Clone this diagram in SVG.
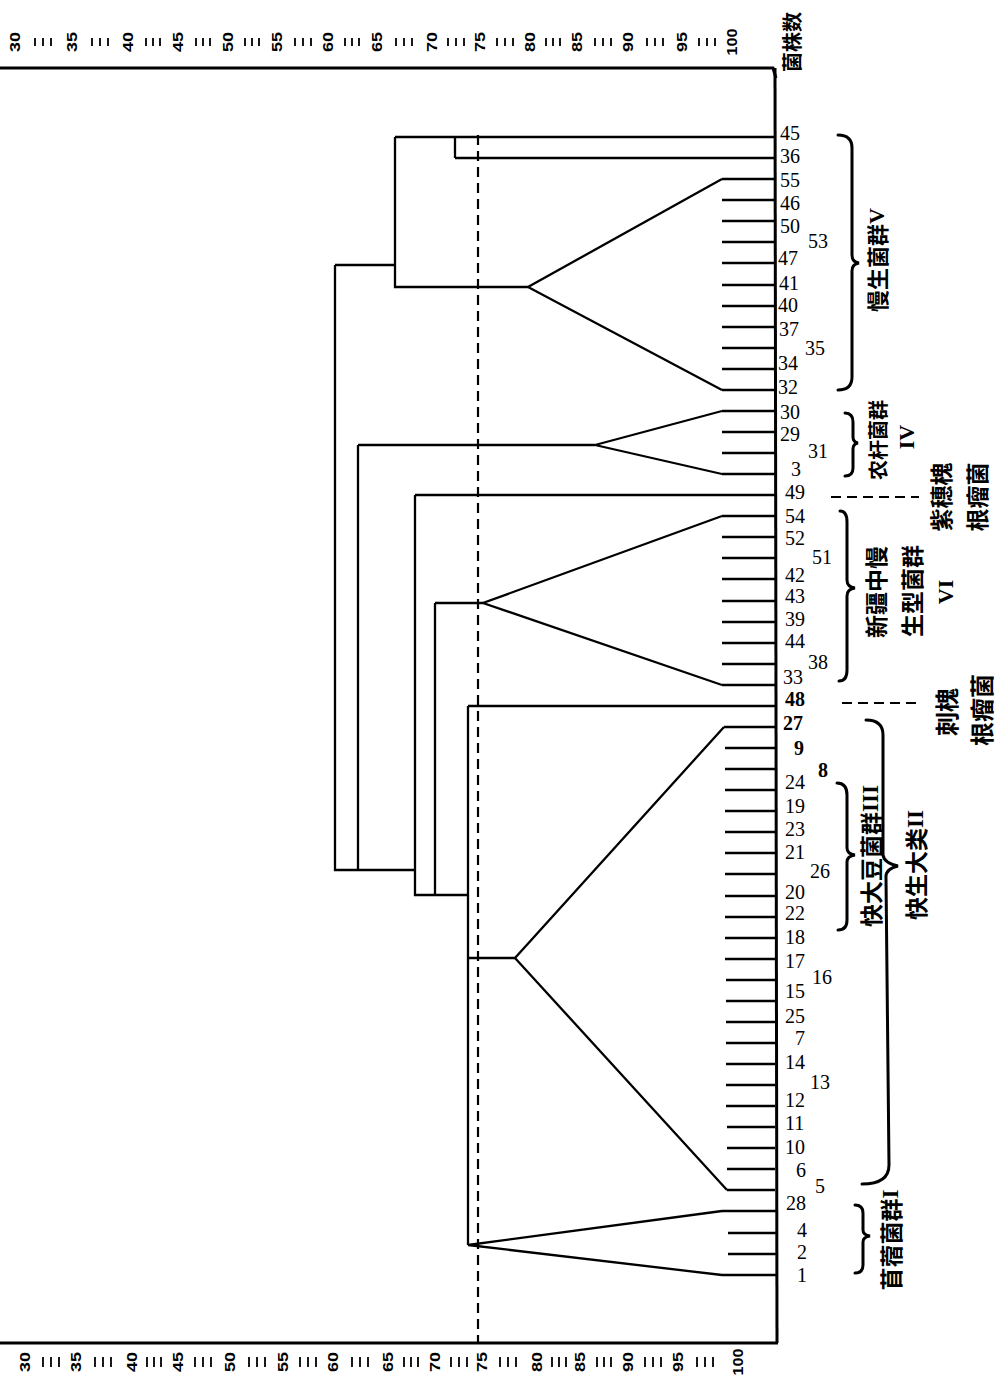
<svg xmlns="http://www.w3.org/2000/svg" width="1000" height="1380" viewBox="0 0 1000 1380">
<style>
.ln{stroke:#000;stroke-width:2.3;fill:none}
.fr{stroke:#000;stroke-width:3;fill:none}
.dash{stroke:#000;stroke-width:2.2;fill:none;stroke-dasharray:10 6}
.br{stroke:#000;stroke-width:3;fill:none;stroke-linecap:round}
.tk{stroke:#000;stroke-width:1.8}
.leaf{font-family:"Liberation Serif",serif;font-size:20px;fill:#000}
.ax{font-family:"Liberation Sans",sans-serif;font-weight:bold;font-size:14px;fill:#000}
.cjk{font-family:"Noto Sans CJK SC",sans-serif;font-weight:bold;fill:#000}
.rn{font-family:"Liberation Serif",serif;font-weight:bold}
</style>
<rect width="1000" height="1380" fill="#fff"/>

<g id="axis-top">
<g class="ax" text-anchor="middle" dominant-baseline="central">
<text transform="translate(15,42) rotate(-90)" textLength="20" lengthAdjust="spacingAndGlyphs">30</text>
<text transform="translate(72,42) rotate(-90)" textLength="20" lengthAdjust="spacingAndGlyphs">35</text>
<text transform="translate(128,42) rotate(-90)" textLength="20" lengthAdjust="spacingAndGlyphs">40</text>
<text transform="translate(178,42) rotate(-90)" textLength="20" lengthAdjust="spacingAndGlyphs">45</text>
<text transform="translate(228,42) rotate(-90)" textLength="20" lengthAdjust="spacingAndGlyphs">50</text>
<text transform="translate(277,42) rotate(-90)" textLength="20" lengthAdjust="spacingAndGlyphs">55</text>
<text transform="translate(328,42) rotate(-90)" textLength="20" lengthAdjust="spacingAndGlyphs">60</text>
<text transform="translate(377,42) rotate(-90)" textLength="20" lengthAdjust="spacingAndGlyphs">65</text>
<text transform="translate(432,42) rotate(-90)" textLength="20" lengthAdjust="spacingAndGlyphs">70</text>
<text transform="translate(480,42) rotate(-90)" textLength="20" lengthAdjust="spacingAndGlyphs">75</text>
<text transform="translate(530,42) rotate(-90)" textLength="20" lengthAdjust="spacingAndGlyphs">80</text>
<text transform="translate(577,42) rotate(-90)" textLength="20" lengthAdjust="spacingAndGlyphs">85</text>
<text transform="translate(628,42) rotate(-90)" textLength="20" lengthAdjust="spacingAndGlyphs">90</text>
<text transform="translate(682,42) rotate(-90)" textLength="20" lengthAdjust="spacingAndGlyphs">95</text>
<text transform="translate(732,42) rotate(-90)" textLength="27" lengthAdjust="spacingAndGlyphs">100</text>
</g>
<path class="tk" d="M35,38v8M43,38v8M51,38v8 M92,38v8M100,38v8M108,38v8 M146,38v8M153,38v8M160,38v8 M196,38v8M203,38v8M210,38v8 M245,38v8M252,38v8M259,38v8 M295,38v8M303,38v8M311,38v8 M345,38v8M352,38v8M359,38v8 M396,38v8M404,38v8M412,38v8 M448,38v8M456,38v8M464,38v8 M497,38v8M505,38v8M513,38v8 M546,38v8M553,38v8M560,38v8 M595,38v8M603,38v8M611,38v8 M647,38v8M655,38v8M663,38v8 M699,38v8M707,38v8M715,38v8"/>
</g>

<g id="axis-bottom">
<g class="ax" text-anchor="middle" dominant-baseline="central">
<text transform="translate(25,1362) rotate(-90)" textLength="20" lengthAdjust="spacingAndGlyphs">30</text>
<text transform="translate(76,1362) rotate(-90)" textLength="20" lengthAdjust="spacingAndGlyphs">35</text>
<text transform="translate(132,1362) rotate(-90)" textLength="20" lengthAdjust="spacingAndGlyphs">40</text>
<text transform="translate(178,1362) rotate(-90)" textLength="20" lengthAdjust="spacingAndGlyphs">45</text>
<text transform="translate(230,1362) rotate(-90)" textLength="20" lengthAdjust="spacingAndGlyphs">50</text>
<text transform="translate(283,1362) rotate(-90)" textLength="20" lengthAdjust="spacingAndGlyphs">55</text>
<text transform="translate(333,1362) rotate(-90)" textLength="20" lengthAdjust="spacingAndGlyphs">60</text>
<text transform="translate(388,1362) rotate(-90)" textLength="20" lengthAdjust="spacingAndGlyphs">65</text>
<text transform="translate(435,1362) rotate(-90)" textLength="20" lengthAdjust="spacingAndGlyphs">70</text>
<text transform="translate(482,1362) rotate(-90)" textLength="20" lengthAdjust="spacingAndGlyphs">75</text>
<text transform="translate(537,1362) rotate(-90)" textLength="20" lengthAdjust="spacingAndGlyphs">80</text>
<text transform="translate(580,1362) rotate(-90)" textLength="20" lengthAdjust="spacingAndGlyphs">85</text>
<text transform="translate(628,1362) rotate(-90)" textLength="20" lengthAdjust="spacingAndGlyphs">90</text>
<text transform="translate(678,1362) rotate(-90)" textLength="20" lengthAdjust="spacingAndGlyphs">95</text>
<text transform="translate(738,1362) rotate(-90)" textLength="27" lengthAdjust="spacingAndGlyphs">100</text>
</g>
<path class="tk" d="M43,1357v10M51,1357v10M59,1357v10 M95,1357v10M103,1357v10M111,1357v10 M147,1357v10M154,1357v10M161,1357v10 M195,1357v10M203,1357v10M211,1357v10 M249,1357v10M257,1357v10M265,1357v10 M300,1357v10M308,1357v10M316,1357v10 M352,1357v10M360,1357v10M368,1357v10 M404,1357v10M411,1357v10M418,1357v10 M451,1357v10M459,1357v10M467,1357v10 M500,1357v10M508,1357v10M516,1357v10 M552,1357v10M559,1357v10M566,1357v10 M597,1357v10M604,1357v10M611,1357v10 M645,1357v10M653,1357v10M661,1357v10 M697,1357v10M705,1357v10M713,1357v10"/>
</g>

<g id="axis-title">
<text class="cjk" font-size="20" text-anchor="middle" dominant-baseline="central" transform="translate(791,42) rotate(-90)">菌株数</text>
</g>

<g id="connectors">
<path class="fr" d="M0,68 L773,68 L776,78"/>
<path class="fr" d="M775,68 L777,1343"/>
<path class="fr" d="M0,1343 L778,1343"/>
<path class="dash" d="M478,135 V1343"/>
<path class="ln" d="M395,137 H775 M455,158 H775 M455,137 V158 M395,137 V287 H528 M335,265 H395"/>
<path class="ln" d="M722,179 L528,287 L722,390"/>
<path class="ln" d="M722,179H775M722,200H775M722,221H775M722,242H775M722,263H775M722,285H775M722,306H775M722,327H775M722,348H775M722,369H775M722,390H775"/>
<path class="ln" d="M335,265 V870 H415 M358,445 V870 M358,445 H595"/>
<path class="ln" d="M722,411 L595,445 L722,474"/>
<path class="ln" d="M722,411H775M722,432H775M722,453H775M722,474H775"/>
<path class="ln" d="M415,495 V895 H468 M415,495 H775 M435,603 V895 M435,603 H483"/>
<path class="ln" d="M722,516 L483,603 L722,685"/>
<path class="ln" d="M722,516H775M722,537H775M722,558H775M722,579H775M722,601H775M722,622H775M722,643H775M722,664H775M722,685H775"/>
<path class="ln" d="M468,706 V1245 M468,706 H775 M468,958 H515"/>
<path class="ln" d="M724,727 L515,958 L727,1190"/>
<path class="ln" d="M724,727H775M725,748H775M725,769H775M725,790H775M725,811H775M725,832H775M725,853H775M725,874H775M725,896H775M725,917H775M725,938H775M725,959H775M726,980H775M726,1001H775M726,1022H775M726,1043H775M726,1064H775M726,1085H775M726,1106H775M727,1127H775M727,1148H775M727,1169H775M727,1190H775"/>
<path class="ln" d="M722,1211 L468,1245 L722,1275"/>
<path class="ln" d="M722,1211H776M728,1233H776M728,1254H776M722,1275H776"/>
<path class="dash" stroke-width="3" d="M831,497 H919"/>
<path class="dash" stroke-width="3" d="M842,703 H920"/>
<path class="br" d="M838,135 Q852,135 852,148 L852,255 Q852,262 859,263 Q852,264 852,271 L852,377 Q852,390 838,390"/>
<path class="br" d="M845,413 Q853,413 853,422 L853,437 Q853,442 858,443 Q853,444 853,449 L853,468 Q853,476 845,476"/>
<path class="br" d="M840,511 Q847,511 847,522 L847,580 Q847,587 855,588 Q847,589 847,596 L847,670 Q847,681 839,681"/>
<path class="br" d="M866,720 Q883,720 883,735 L883,855 Q884,863 898,866 Q885,869 886,878 L889,1165 Q889,1184 862,1184"/>
<path class="br" d="M837,783 Q847,783 847,795 L847,848 Q847,854 855,855 Q847,856 847,862 L847,920 Q847,930 838,930"/>
<path class="br" d="M855,1205 Q863,1205 863,1213 L863,1230 Q863,1235 870,1236 Q863,1237 863,1242 L863,1265 Q863,1273 855,1273"/>
</g>

<g class="leaf">
<g id="leaf-45"><text x="780" y="140">45</text></g>
<g id="leaf-36"><text x="780" y="163">36</text></g>
<g id="leaf-55"><text x="780" y="187">55</text></g>
<g id="leaf-46"><text x="780" y="210">46</text></g>
<g id="leaf-50"><text x="780" y="233">50</text></g>
<g id="leaf-53"><text x="808" y="248">53</text></g>
<g id="leaf-47"><text x="778" y="265">47</text></g>
<g id="leaf-41"><text x="779" y="290">41</text></g>
<g id="leaf-40"><text x="778" y="312">40</text></g>
<g id="leaf-37"><text x="779" y="336">37</text></g>
<g id="leaf-35"><text x="805" y="355">35</text></g>
<g id="leaf-34"><text x="778" y="370">34</text></g>
<g id="leaf-32"><text x="778" y="394">32</text></g>
<g id="leaf-30"><text x="780" y="419">30</text></g>
<g id="leaf-29"><text x="780" y="441">29</text></g>
<g id="leaf-31"><text x="808" y="458">31</text></g>
<g id="leaf-3"><text x="791" y="476">3</text></g>
<g id="leaf-49"><text x="785" y="499">49</text></g>
<g id="leaf-54"><text x="785" y="523">54</text></g>
<g id="leaf-52"><text x="785" y="545">52</text></g>
<g id="leaf-51"><text x="812" y="564">51</text></g>
<g id="leaf-42"><text x="785" y="582">42</text></g>
<g id="leaf-43"><text x="785" y="603">43</text></g>
<g id="leaf-39"><text x="785" y="626">39</text></g>
<g id="leaf-44"><text x="785" y="648">44</text></g>
<g id="leaf-38"><text x="808" y="669">38</text></g>
<g id="leaf-33"><text x="783" y="684">33</text></g>
<g id="leaf-48"><text x="785" y="706" font-weight="bold">48</text></g>
<g id="leaf-27"><text x="783" y="730" font-weight="bold">27</text></g>
<g id="leaf-9"><text x="794" y="755" font-weight="bold">9</text></g>
<g id="leaf-8"><text x="818" y="777" font-weight="bold">8</text></g>
<g id="leaf-24"><text x="785" y="789">24</text></g>
<g id="leaf-19"><text x="785" y="813">19</text></g>
<g id="leaf-23"><text x="785" y="836">23</text></g>
<g id="leaf-21"><text x="785" y="859">21</text></g>
<g id="leaf-26"><text x="810" y="878">26</text></g>
<g id="leaf-20"><text x="785" y="899">20</text></g>
<g id="leaf-22"><text x="785" y="920">22</text></g>
<g id="leaf-18"><text x="785" y="944">18</text></g>
<g id="leaf-17"><text x="785" y="968">17</text></g>
<g id="leaf-16"><text x="812" y="984">16</text></g>
<g id="leaf-15"><text x="785" y="998">15</text></g>
<g id="leaf-25"><text x="785" y="1023">25</text></g>
<g id="leaf-7"><text x="795" y="1045">7</text></g>
<g id="leaf-14"><text x="785" y="1069">14</text></g>
<g id="leaf-13"><text x="810" y="1089">13</text></g>
<g id="leaf-12"><text x="785" y="1107">12</text></g>
<g id="leaf-11"><text x="785" y="1130">11</text></g>
<g id="leaf-10"><text x="785" y="1154">10</text></g>
<g id="leaf-6"><text x="796" y="1177">6</text></g>
<g id="leaf-5"><text x="815" y="1193">5</text></g>
<g id="leaf-28"><text x="786" y="1210">28</text></g>
<g id="leaf-4"><text x="797" y="1237">4</text></g>
<g id="leaf-2"><text x="797" y="1259">2</text></g>
<g id="leaf-1"><text x="797" y="1282">1</text></g>
</g>

<g id="group-V"><text class="cjk" font-size="22" text-anchor="middle" dominant-baseline="central" transform="translate(876,260) rotate(-90)">慢生菌群<tspan class="rn" font-weight="normal">V</tspan></text></g>
<g id="group-IV">
<text class="cjk" font-size="20" text-anchor="middle" dominant-baseline="central" transform="translate(877,440) rotate(-90)">农杆菌群</text>
<text class="rn" font-size="22" text-anchor="middle" dominant-baseline="central" transform="translate(906,437) rotate(-90)">IV</text>
</g>
<g id="label-amorpha">
<text class="cjk" font-size="23" text-anchor="middle" dominant-baseline="central" transform="translate(940,497) rotate(-90)">紫穗槐</text>
<text class="cjk" font-size="23" text-anchor="middle" dominant-baseline="central" transform="translate(976,497) rotate(-90)">根瘤菌</text>
</g>
<g id="group-VI">
<text class="cjk" font-size="23" text-anchor="middle" dominant-baseline="central" transform="translate(875,592) rotate(-90)">新疆中慢</text>
<text class="cjk" font-size="23" text-anchor="middle" dominant-baseline="central" transform="translate(911,591) rotate(-90)">生型菌群</text>
<text class="rn" font-size="22" text-anchor="middle" dominant-baseline="central" transform="translate(945,592) rotate(-90)">VI</text>
</g>
<g id="label-robinia">
<text class="cjk" font-size="24" text-anchor="middle" dominant-baseline="central" transform="translate(945,712) rotate(-90)">刺槐</text>
<text class="cjk" font-size="24" text-anchor="middle" dominant-baseline="central" transform="translate(980,710) rotate(-90)">根瘤菌</text>
</g>
<g id="group-III"><text class="cjk" font-size="23" text-anchor="middle" dominant-baseline="central" transform="translate(870,856) rotate(-90)">快大豆菌群<tspan class="rn">III</tspan></text></g>
<g id="group-II"><text class="cjk" font-size="23" text-anchor="middle" dominant-baseline="central" transform="translate(915,865) rotate(-90)">快生大类<tspan class="rn">II</tspan></text></g>
<g id="group-I"><text class="cjk" font-size="23" text-anchor="middle" dominant-baseline="central" transform="translate(890,1240) rotate(-90)">苜蓿菌群<tspan class="rn">I</tspan></text></g>
</svg>
